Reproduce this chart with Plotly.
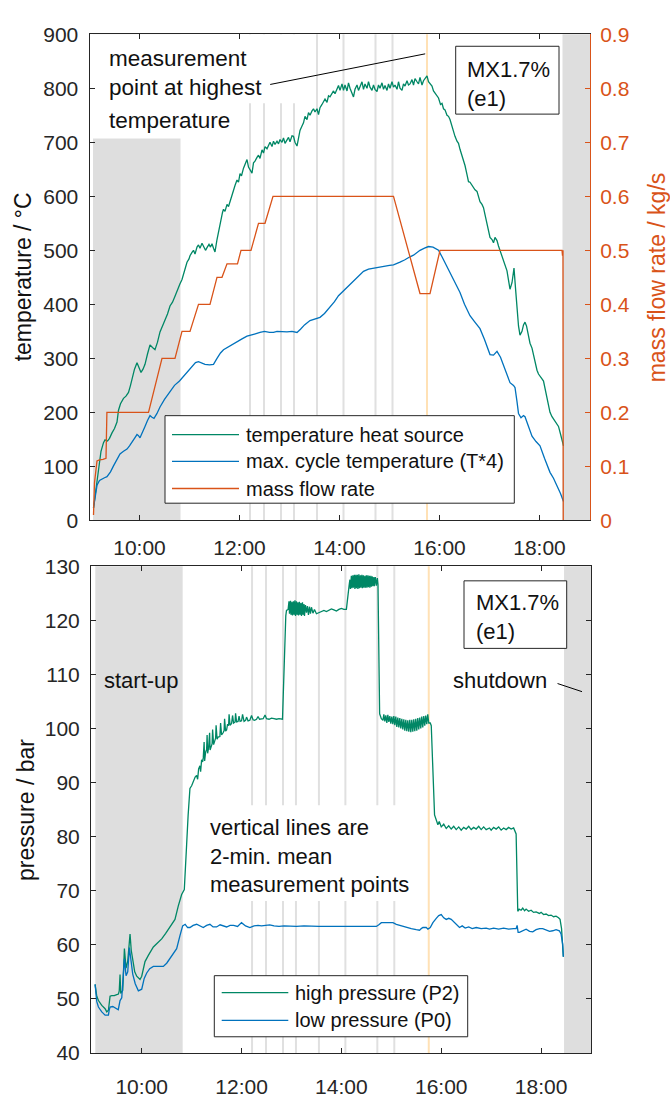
import plotly.graph_objects as go

W, H = 670, 1098
FONT = "Liberation Sans, Arial, Helvetica, sans-serif"
TXT = "#111111"
AX = "#262626"
GREEN = "#008765"
BLUE = "#0072BD"
ORANGE = "#D95319"
GRAY_PATCH = "#DEDEDE"
MEAS_GRAY = "#E0E0E0"
MEAS_ORANGE = "#FFE1B5"

# ---------------- data ----------------
tick_hours = [10, 12, 14, 16, 18]
tick_text = ["10:00", "12:00", "14:00", "16:00", "18:00"]
temp_ticks = [0, 100, 200, 300, 400, 500, 600, 700, 800, 900]
flow_ticks = [0, 0.1, 0.2, 0.3, 0.4, 0.5, 0.6, 0.7, 0.8, 0.9]
flow_tick_text = ["0", "0.1", "0.2", "0.3", "0.4", "0.5", "0.6", "0.7", "0.8", "0.9"]
pres_ticks = [40, 50, 60, 70, 80, 90, 100, 110, 120, 130]

series_top = ["temperature heat source", "max. cycle temperature (T*4)", "mass flow rate"]
series_bottom = ["high pressure (P2)", "low pressure (P0)"]

# temperature heat source (time in h, degC)
heat_source = [
    (9.08, 23), (9.13, 60), (9.18, 102), (9.23, 128), (9.28, 144), (9.31, 149), (9.36, 147), (9.40, 152),
    (9.45, 162), (9.50, 170), (9.55, 182), (9.58, 204), (9.62, 216), (9.65, 222), (9.68, 226), (9.73, 230),
    (9.78, 237), (9.82, 250), (9.85, 262), (9.90, 280), (9.95, 292), (9.99, 284), (10.03, 274), (10.07, 280),
    (10.11, 289), (10.16, 308), (10.21, 325), (10.26, 320), (10.31, 316), (10.36, 330), (10.41, 349),
    (10.46, 360), (10.51, 370), (10.56, 382), (10.61, 397), (10.66, 404), (10.71, 415), (10.76, 428),
    (10.81, 438), (10.85, 446), (10.88, 455), (10.92, 468), (10.95, 478), (10.99, 484), (11.01, 490),
    (11.05, 496), (11.08, 500), (11.11, 493), (11.15, 506), (11.18, 510), (11.21, 504), (11.25, 513),
    (11.28, 507), (11.32, 500), (11.35, 505), (11.39, 511), (11.42, 506), (11.45, 512), (11.48, 504),
    (11.51, 497), (11.55, 520), (11.59, 540), (11.63, 556), (11.66, 570), (11.68, 576), (11.71, 572),
    (11.75, 585), (11.78, 581), (11.81, 590), (11.85, 603), (11.88, 612), (11.91, 620), (11.95, 630),
    (11.98, 626), (12.01, 642), (12.04, 638), (12.08, 652), (12.11, 660), (12.15, 668), (12.18, 654),
    (12.21, 650), (12.25, 643), (12.28, 662), (12.31, 665), (12.35, 672), (12.38, 676), (12.41, 670),
    (12.45, 686), (12.48, 680), (12.51, 692), (12.55, 688), (12.58, 696), (12.61, 700), (12.65, 692),
    (12.68, 702), (12.71, 696), (12.75, 702), (12.78, 697), (12.81, 705), (12.85, 700), (12.88, 708),
    (12.91, 698), (12.95, 703), (12.98, 709), (13.01, 701), (13.05, 712), (13.08, 711), (13.11, 700),
    (13.15, 693), (13.18, 712), (13.21, 722), (13.25, 730), (13.28, 736), (13.31, 748), (13.35, 742),
    (13.38, 755), (13.41, 750), (13.45, 758), (13.48, 762), (13.51, 756), (13.55, 762), (13.58, 751),
    (13.61, 764), (13.65, 770), (13.68, 776), (13.71, 780), (13.75, 774), (13.78, 786), (13.81, 784),
    (13.85, 792), (13.88, 795), (13.91, 790), (13.95, 800), (13.98, 805), (14.01, 796), (14.05, 808),
    (14.08, 796), (14.11, 806), (14.15, 795), (14.18, 810), (14.21, 800), (14.25, 792), (14.28, 784),
    (14.31, 798), (14.35, 806), (14.38, 796), (14.41, 804), (14.45, 812), (14.48, 798), (14.51, 808),
    (14.55, 800), (14.58, 812), (14.61, 802), (14.65, 796), (14.68, 806), (14.71, 798), (14.75, 794),
    (14.78, 806), (14.81, 800), (14.85, 810), (14.88, 798), (14.91, 805), (14.95, 796), (14.98, 808),
    (15.01, 800), (15.05, 812), (15.08, 802), (15.11, 806), (15.15, 798), (15.18, 812), (15.21, 800),
    (15.25, 796), (15.28, 808), (15.31, 804), (15.35, 814), (15.38, 806), (15.41, 808), (15.45, 816),
    (15.48, 806), (15.51, 818), (15.55, 812), (15.58, 808), (15.61, 820), (15.65, 806), (15.68, 814),
    (15.71, 818), (15.75, 823), (15.78, 812), (15.82, 808), (15.85, 804), (15.88, 795), (15.92, 790),
    (15.95, 784), (15.98, 782), (16.02, 770), (16.05, 772), (16.08, 762), (16.11, 760), (16.15, 750),
    (16.18, 748), (16.21, 742), (16.25, 728), (16.28, 722), (16.31, 711), (16.35, 702), (16.38, 698),
    (16.41, 687), (16.45, 675), (16.48, 665), (16.51, 657), (16.55, 640), (16.58, 627), (16.61, 626),
    (16.65, 620), (16.68, 616), (16.71, 612), (16.75, 609), (16.78, 598), (16.81, 590), (16.85, 585),
    (16.88, 579), (16.91, 566), (16.95, 548), (16.98, 535), (17.01, 524), (17.05, 520), (17.08, 514),
    (17.11, 524), (17.15, 518), (17.18, 508), (17.21, 500), (17.25, 490), (17.28, 480), (17.31, 475),
    (17.35, 462), (17.38, 445), (17.41, 428), (17.45, 440), (17.49, 467), (17.52, 430), (17.55, 395),
    (17.58, 360), (17.61, 343), (17.65, 350), (17.68, 362), (17.71, 367), (17.74, 360), (17.78, 340),
    (17.81, 328), (17.85, 319), (17.88, 305), (17.91, 292), (17.95, 278), (17.98, 271), (18.01, 266),
    (18.05, 262), (18.08, 258), (18.11, 245), (18.15, 228), (18.18, 212), (18.21, 200), (18.25, 192),
    (18.28, 188), (18.31, 183), (18.35, 178), (18.38, 174), (18.42, 160), (18.45, 148), (18.48, 138),
]
hs_time = [p[0] for p in heat_source]
hs_temp = [p[1] for p in heat_source]

# max. cycle temperature (T*4)
cycle_temp = [
    (9.08, 23), (9.11, 40), (9.15, 65), (9.20, 74), (9.25, 77), (9.30, 79), (9.35, 81), (9.42, 90),
    (9.48, 101), (9.55, 112), (9.61, 123), (9.68, 128), (9.75, 132), (9.80, 138), (9.85, 144), (9.90, 152),
    (9.95, 159), (9.98, 157), (10.01, 153), (10.06, 162), (10.11, 174), (10.16, 185), (10.21, 194),
    (10.25, 191), (10.29, 189), (10.35, 198), (10.41, 210), (10.50, 224), (10.60, 238), (10.70, 250),
    (10.80, 258), (10.90, 268), (10.98, 277), (11.05, 284), (11.12, 292), (11.18, 294), (11.24, 291),
    (11.31, 289), (11.40, 288), (11.48, 289), (11.55, 300), (11.62, 310), (11.68, 316), (11.75, 320),
    (11.85, 326), (11.95, 331), (12.05, 336), (12.15, 341), (12.21, 343), (12.30, 345), (12.41, 348),
    (12.50, 350), (12.60, 348), (12.68, 348), (12.75, 350), (12.85, 349), (12.95, 349), (13.05, 350),
    (13.15, 348), (13.22, 354), (13.30, 362), (13.41, 370), (13.50, 373), (13.61, 376), (13.70, 383),
    (13.81, 394), (13.90, 405), (13.98, 416), (14.10, 427), (14.21, 437), (14.30, 446), (14.40, 455),
    (14.48, 461), (14.58, 465), (14.68, 467), (14.80, 469), (14.90, 471), (15.00, 472), (15.08, 473),
    (15.15, 475), (15.21, 478), (15.30, 482), (15.35, 485), (15.41, 488), (15.48, 491), (15.55, 496),
    (15.61, 500), (15.70, 504), (15.78, 507), (15.87, 506), (15.93, 503), (15.98, 500), (16.05, 488),
    (16.12, 475), (16.21, 458), (16.30, 442), (16.41, 422), (16.50, 400), (16.61, 379), (16.70, 368),
    (16.81, 355), (16.90, 335), (17.01, 307), (17.08, 306), (17.15, 313), (17.22, 302), (17.31, 280),
    (17.41, 255), (17.48, 250), (17.51, 246), (17.55, 220), (17.58, 198), (17.63, 190), (17.68, 194),
    (17.71, 192), (17.78, 172), (17.85, 156), (17.93, 146), (18.01, 138), (18.10, 115), (18.21, 89),
    (18.28, 78), (18.35, 65), (18.42, 50), (18.48, 35),
]
ct_time = [p[0] for p in cycle_temp]
ct_temp = [p[1] for p in cycle_temp]

# mass flow rate (kg/s)
mass_flow = [
    (9.08, 0.01), (9.10, 0.07), (9.15, 0.11), (9.20, 0.112), (9.27, 0.113), (9.33, 0.115), (9.348, 0.2),
    (10.18, 0.2), (10.45, 0.3), (10.71, 0.3), (10.85, 0.35), (11.01, 0.35), (11.18, 0.4), (11.41, 0.4),
    (11.55, 0.45), (11.65, 0.45), (11.75, 0.475), (11.96, 0.475), (12.03, 0.5), (12.23, 0.5),
    (12.38, 0.55), (12.51, 0.55), (12.67, 0.6), (15.08, 0.6), (15.61, 0.42), (15.81, 0.42),
    (16.01, 0.5), (18.45, 0.5), (18.46, 0.49), (18.47, 0.5), (18.475, 0.0),
]
mf_time = [p[0] for p in mass_flow]
mf_val = [p[1] for p in mass_flow]

# high pressure (P2), bar
high_p = [
    (9.066, 52.7), (9.10, 50.5), (9.133, 49.7), (9.20, 48.8), (9.266, 48.2), (9.30, 47.6), (9.333, 47.9),
    (9.35, 49.5), (9.366, 50.5), (9.40, 50.6), (9.45, 50.6), (9.50, 50.8), (9.533, 50.9), (9.55, 51.5),
    (9.566, 54.5), (9.58, 51.0), (9.62, 51.6), (9.653, 59.3), (9.67, 56.0), (9.686, 55.7), (9.72, 57.0),
    (9.766, 62.0), (9.79, 59.0), (9.82, 56.9), (9.86, 55.0), (9.90, 54.2), (9.966, 53.6), (10.00, 54.2),
    (10.066, 56.9), (10.13, 58.0), (10.233, 59.6), (10.30, 60.2), (10.40, 61.1), (10.48, 62.1),
    (10.566, 63.2), (10.666, 64.7), (10.733, 67.2), (10.80, 69.3), (10.853, 70.2), (10.88, 74.0),
    (10.90, 78.6), (10.93, 84.0), (10.966, 88.9), (11.00, 89.4), (11.04, 90.5), (11.07, 91.0),
    (11.10, 91.3), (11.12, 90.6), (11.14, 92.5), (11.166, 93.1), (11.18, 92.0), (11.20, 94.2),
    (11.22, 93.8), (11.233, 94.6), (11.25, 97.5), (11.26, 94.0), (11.28, 95.6), (11.30, 96.1),
    (11.31, 98.8), (11.32, 95.4), (11.34, 96.4), (11.36, 99.2), (11.37, 96.0), (11.39, 96.9),
    (11.41, 97.2), (11.42, 99.8), (11.44, 97.0), (11.46, 97.6), (11.48, 98.2), (11.49, 100.6),
    (11.51, 98.0), (11.53, 98.4), (11.566, 98.5), (11.58, 101.0), (11.60, 98.8), (11.63, 99.2),
    (11.65, 99.6), (11.66, 101.8), (11.68, 99.5), (11.70, 99.7), (11.72, 100.8), (11.74, 100.5),
    (11.75, 102.6), (11.77, 100.6), (11.80, 100.9), (11.82, 102.4), (11.84, 101.0), (11.87, 101.2),
    (11.88, 102.8), (11.90, 101.2), (11.93, 101.3), (11.95, 102.3), (11.97, 101.3), (12.00, 101.4),
    (12.02, 102.6), (12.05, 101.3), (12.08, 101.5), (12.10, 102.1), (12.13, 101.4), (12.166, 101.5),
    (12.20, 102.4), (12.23, 101.6), (12.26, 101.5), (12.30, 101.7), (12.33, 102.2), (12.36, 101.7),
    (12.40, 101.8), (12.433, 101.8), (12.47, 102.5), (12.50, 101.8), (12.55, 101.7), (12.60, 101.9),
    (12.65, 101.8), (12.70, 101.7), (12.75, 101.8), (12.82, 101.7), (12.886, 120.8), (12.90, 121.8),
    (12.933, 122.0), (12.95, 123.5), (12.96, 121.2), (12.98, 123.6), (12.99, 121.0), (13.01, 123.4),
    (13.02, 120.9), (13.04, 123.5), (13.05, 121.0), (13.07, 123.7), (13.08, 120.8), (13.10, 123.5),
    (13.11, 121.0), (13.13, 123.3), (13.14, 120.9), (13.16, 123.4), (13.17, 121.0), (13.19, 123.2),
    (13.20, 120.8), (13.22, 123.3), (13.23, 121.0), (13.25, 123.0), (13.26, 120.8), (13.28, 122.8),
    (13.30, 121.4), (13.32, 122.6), (13.34, 121.0), (13.36, 122.5), (13.38, 121.2), (13.40, 122.4),
    (13.43, 121.3), (13.46, 122.0), (13.50, 121.2), (13.55, 121.4), (13.60, 121.5), (13.65, 121.8),
    (13.70, 121.6), (13.75, 121.8), (13.80, 122.1), (13.85, 121.9), (13.90, 121.7), (13.95, 122.0),
    (14.00, 122.2), (14.05, 122.0), (14.10, 122.0), (14.153, 126.3), (14.17, 127.5), (14.18, 125.8),
    (14.20, 128.2), (14.21, 125.9), (14.23, 128.3), (14.24, 126.0), (14.26, 128.4), (14.27, 125.8),
    (14.29, 128.4), (14.30, 125.9), (14.32, 128.4), (14.33, 125.8), (14.35, 128.5), (14.36, 125.9),
    (14.38, 128.3), (14.39, 126.0), (14.41, 128.4), (14.42, 125.9), (14.44, 128.3), (14.45, 126.0),
    (14.47, 128.2), (14.48, 126.0), (14.50, 128.3), (14.51, 126.0), (14.53, 128.3), (14.54, 126.1),
    (14.56, 128.2), (14.57, 126.0), (14.59, 128.2), (14.60, 126.2), (14.62, 128.1), (14.63, 126.3),
    (14.65, 128.0), (14.66, 126.3), (14.68, 128.0), (14.70, 126.4), (14.72, 127.8), (14.733, 126.6),
    (14.766, 102.7), (14.80, 101.8), (14.833, 101.5), (14.85, 102.6), (14.87, 101.3), (14.89, 102.4),
    (14.91, 101.0), (14.93, 102.5), (14.95, 101.2), (14.97, 102.3), (14.99, 100.9), (15.01, 102.2),
    (15.03, 100.8), (15.05, 102.3), (15.07, 100.6), (15.09, 102.2), (15.11, 100.3), (15.13, 102.0),
    (15.15, 100.2), (15.17, 101.9), (15.19, 100.0), (15.21, 101.8), (15.23, 99.8), (15.25, 101.7),
    (15.27, 99.6), (15.29, 101.6), (15.31, 99.5), (15.33, 101.5), (15.35, 99.4), (15.37, 101.6),
    (15.39, 99.3), (15.41, 101.6), (15.43, 99.4), (15.45, 101.7), (15.47, 99.5), (15.49, 101.8),
    (15.51, 99.6), (15.53, 101.9), (15.55, 99.8), (15.57, 102.0), (15.59, 100.0), (15.61, 102.2),
    (15.63, 100.2), (15.65, 102.3), (15.67, 100.5), (15.69, 102.4), (15.71, 100.8), (15.73, 102.6),
    (15.75, 101.0), (15.78, 101.0), (15.80, 100.5), (15.866, 84.0), (15.90, 83.0), (15.933, 82.2),
    (15.96, 82.8), (16.00, 81.8), (16.05, 82.3), (16.10, 81.5), (16.15, 82.0), (16.20, 81.4),
    (16.25, 81.9), (16.30, 81.3), (16.35, 81.8), (16.40, 81.2), (16.45, 81.7), (16.50, 81.4),
    (16.55, 81.9), (16.60, 81.3), (16.65, 81.7), (16.70, 81.4), (16.75, 81.9), (16.80, 81.3),
    (16.85, 81.8), (16.90, 81.3), (16.966, 81.6), (17.00, 81.2), (17.05, 81.7), (17.10, 81.4),
    (17.15, 81.8), (17.20, 81.2), (17.25, 81.6), (17.30, 81.3), (17.35, 81.7), (17.40, 81.4),
    (17.45, 81.6), (17.48, 81.0), (17.50, 80.5), (17.533, 66.2), (17.56, 66.6), (17.60, 66.4),
    (17.633, 66.8), (17.67, 66.3), (17.70, 66.6), (17.75, 66.2), (17.80, 66.4), (17.85, 66.0),
    (17.90, 66.1), (17.966, 65.8), (18.00, 66.0), (18.05, 65.6), (18.10, 65.7), (18.15, 65.4),
    (18.20, 65.5), (18.25, 65.2), (18.30, 65.3), (18.35, 65.0), (18.38, 64.7), (18.41, 63.0),
    (18.433, 60.5), (18.446, 57.8),
]
hp_time = [p[0] for p in high_p]
hp_val = [p[1] for p in high_p]

# low pressure (P0), bar
low_p = [
    (9.066, 52.7), (9.10, 49.5), (9.133, 48.5), (9.20, 47.6), (9.266, 47.0), (9.333, 47.0), (9.35, 48.0),
    (9.366, 48.5), (9.42, 48.6), (9.50, 48.2), (9.53, 48.0), (9.566, 49.7), (9.60, 50.2), (9.653, 57.4),
    (9.67, 55.0), (9.686, 54.3), (9.72, 55.0), (9.753, 59.5), (9.78, 57.5), (9.82, 54.6), (9.87, 52.8),
    (9.933, 51.5), (10.00, 51.8), (10.05, 53.8), (10.10, 54.8), (10.16, 55.6), (10.233, 56.0),
    (10.33, 56.0), (10.433, 56.0), (10.50, 56.6), (10.566, 57.5), (10.63, 58.3), (10.70, 59.3),
    (10.766, 61.7), (10.82, 63.5), (10.87, 63.8), (10.92, 63.2), (10.966, 63.2), (11.03, 63.6),
    (11.10, 63.8), (11.17, 63.4), (11.233, 63.2), (11.30, 63.6), (11.366, 63.8), (11.43, 63.3),
    (11.50, 63.3), (11.57, 63.7), (11.63, 63.5), (11.70, 63.3), (11.77, 63.6), (11.84, 63.6),
    (11.92, 63.4), (11.999, 64.1), (12.08, 63.5), (12.166, 63.2), (12.25, 63.5), (12.33, 63.6),
    (12.40, 63.5), (12.48, 63.6), (12.566, 63.7), (12.65, 63.5), (12.75, 63.4), (12.85, 63.5),
    (12.966, 63.4), (13.10, 63.4), (13.25, 63.5), (13.40, 63.4), (13.55, 63.4), (13.70, 63.4),
    (13.85, 63.4), (14.00, 63.4), (14.15, 63.5), (14.30, 63.4), (14.45, 63.4), (14.60, 63.4),
    (14.70, 63.4), (14.75, 63.7), (14.80, 64.1), (14.90, 64.1), (15.033, 64.1), (15.10, 63.8),
    (15.20, 63.5), (15.30, 63.2), (15.40, 63.0), (15.50, 62.8), (15.566, 62.7), (15.60, 63.0),
    (15.633, 63.2), (15.70, 63.2), (15.733, 62.9), (15.78, 63.2), (15.833, 64.1), (15.90, 64.9),
    (15.95, 65.4), (16.00, 65.6), (16.05, 65.0), (16.10, 64.7), (16.15, 64.9), (16.20, 64.7),
    (16.25, 64.2), (16.30, 63.8), (16.366, 63.2), (16.42, 63.5), (16.48, 63.1), (16.55, 63.3),
    (16.62, 63.0), (16.70, 63.2), (16.80, 63.0), (16.90, 63.1), (16.966, 62.9), (17.05, 63.1),
    (17.15, 62.9), (17.25, 63.1), (17.35, 62.9), (17.45, 63.0), (17.50, 63.0), (17.52, 63.6),
    (17.54, 62.3), (17.566, 62.3), (17.62, 62.6), (17.70, 62.9), (17.77, 62.5), (17.833, 62.4),
    (17.90, 62.8), (17.97, 63.0), (18.033, 63.0), (18.10, 62.8), (18.17, 62.5), (18.233, 62.6),
    (18.30, 62.8), (18.366, 62.6), (18.40, 62.0), (18.433, 60.1), (18.446, 57.8),
]
lp_time = [p[0] for p in low_p]
lp_val = [p[1] for p in low_p]

meas_times = [12.21, 12.49, 12.83, 13.09, 13.55, 14.08, 14.72, 15.06]
meas_highest = 15.75
startup_span = (9.07, 10.82)
shutdown_start = 18.46

# ---------------- layout helpers ----------------
def px(x):
    return x / W


def py(y):
    return 1 - y / H


top_x_dom = [px(89.5), px(590)]
top_y_dom = [py(519.3), py(22.7)]
bot_x_dom = [px(91), px(591)]
bot_y_dom = [py(1063.3), py(566)]
top_range = [9.0, 19.01]
bot_range = [8.984, 19.0]

fig = go.Figure()
LW = 1.3
fig.add_trace(go.Scatter(x=hs_time, y=hs_temp, mode="lines", name=series_top[0],
                         line=dict(color=GREEN, width=LW), xaxis="x", yaxis="y", showlegend=False))
fig.add_trace(go.Scatter(x=ct_time, y=ct_temp, mode="lines", name=series_top[1],
                         line=dict(color=BLUE, width=LW), xaxis="x", yaxis="y", showlegend=False))
fig.add_trace(go.Scatter(x=mf_time, y=mf_val, mode="lines", name=series_top[2],
                         line=dict(color=ORANGE, width=LW), xaxis="x", yaxis="y2", showlegend=False))
fig.add_trace(go.Scatter(x=hp_time, y=hp_val, mode="lines", name=series_bottom[0],
                         line=dict(color=GREEN, width=LW), xaxis="x2", yaxis="y3", showlegend=False))
fig.add_trace(go.Scatter(x=lp_time, y=lp_val, mode="lines", name=series_bottom[1],
                         line=dict(color=BLUE, width=LW), xaxis="x2", yaxis="y3", showlegend=False))

shapes = []
for xr, yr, rng in (("x", "y", top_range), ("x2", "y3", bot_range)):
    shapes.append(dict(type="rect", xref=xr, yref=yr + " domain", x0=startup_span[0], x1=startup_span[1],
                       y0=0, y1=1, fillcolor=GRAY_PATCH, line=dict(width=0), layer="below"))
    shapes.append(dict(type="rect", xref=xr, yref=yr + " domain", x0=shutdown_start, x1=rng[1],
                       y0=0, y1=1, fillcolor=GRAY_PATCH, line=dict(width=0), layer="below"))
    for t in meas_times:
        shapes.append(dict(type="line", xref=xr, yref=yr + " domain", x0=t, x1=t, y0=0, y1=1,
                           line=dict(color=MEAS_GRAY, width=2), layer="below"))
    shapes.append(dict(type="line", xref=xr, yref=yr + " domain", x0=meas_highest, x1=meas_highest,
                       y0=0, y1=1, line=dict(color=MEAS_ORANGE, width=2), layer="below"))

# white backgrounds behind the text labels
shapes.append(dict(type="rect", xref="x", yref="y", x0=startup_span[0] - 0.01, x1=13.3, y0=772, y1=900,
                   fillcolor="white", line=dict(width=0), layer="below"))
shapes.append(dict(type="rect", xref="x", yref="y", x0=startup_span[0] - 0.01, x1=startup_span[1] + 0.01,
                   y0=707, y1=900, fillcolor="white", line=dict(width=0), layer="below"))
shapes.append(dict(type="rect", xref="x2", yref="y3", x0=11.29, x1=15.51, y0=68.1, y1=85.8,
                   fillcolor="white", line=dict(width=0), layer="below"))

# leader lines
shapes.append(dict(type="line", xref="x", yref="y", x0=12.614, y0=807, x1=15.714, y1=863.7,
                   line=dict(color="#000000", width=1)))
shapes.append(dict(type="line", xref="x2", yref="y3", x0=18.33, y0=108.3, x1=18.82, y1=106.8,
                   line=dict(color="#000000", width=1)))

# MX boxes
for (x0, x1, y0, y1) in ((455.7, 559, 35, 104.3), (464, 566.7, 581, 650)):
    shapes.append(dict(type="rect", xref="paper", yref="paper", x0=px(x0), x1=px(x1), y0=py(y1), y1=py(y0),
                       fillcolor="white", line=dict(color=AX, width=1)))

annotations = []


def add_text(text, x, y, size=22, color=TXT, xanchor="left", angle=0):
    annotations.append(dict(text=text, x=px(x), y=py(y), xref="paper", yref="paper", showarrow=False,
                            xanchor=xanchor, yanchor="middle", align="left", borderpad=0,
                            font=dict(family=FONT, size=size, color=color), textangle=angle))


# custom legends
LEG_FONT = 20
legend_specs = [
    (series_top, [GREEN, BLUE, ORANGE], (165, 514.3, 412.3, 501.7), (172, 239), [431.7, 459, 486.7], 245),
    (series_bottom, [GREEN, BLUE], (214.3, 467.7, 984.3, 1046.7), (221.7, 288.3), [1001.7, 1030], 294),
]
for names, cols, box, lx, rows, tx in legend_specs:
    shapes.append(dict(type="rect", xref="paper", yref="paper", x0=px(box[0]), x1=px(box[1]),
                       y0=py(box[3]), y1=py(box[2]), fillcolor="white", line=dict(color=AX, width=1)))
    for nm, c, ry in zip(names, cols, rows):
        shapes.append(dict(type="line", xref="paper", yref="paper", x0=px(lx[0]), x1=px(lx[1]),
                           y0=py(ry), y1=py(ry), line=dict(color=c, width=LW)))
        add_text(nm, tx, ry, size=LEG_FONT)

add_text("measurement<br>point at highest", 108, 62.5, size=22.5)
add_text("temperature", 108, 111, size=22.5)
add_text("MX1.7%<br>(e1)", 466, 73.3)
add_text("MX1.7%<br>(e1)", 474.5, 617.5)
add_text("start-up", 102.5, 683.3)
add_text("shutdown", 452, 683)
add_text("vertical lines are<br>2-min. mean<br>measurement points", 209, 861.7)

# axis titles
add_text("temperature / °C", 23, 271, size=23, xanchor="center", angle=-90)
add_text("mass flow rate / kg/s", 657, 271, size=23, color=ORANGE, xanchor="center", angle=-90)
add_text("pressure / bar", 26, 815, size=23, xanchor="center", angle=-90)

tickfont = dict(family=FONT, size=21, color=AX)
common_x = dict(tickvals=tick_hours, ticktext=tick_text, ticks="inside", ticklen=5, tickcolor=AX,
                showline=True, linecolor=AX, linewidth=1, mirror="ticks", showgrid=False, zeroline=False,
                tickfont=tickfont)
common_y = dict(ticks="inside", ticklen=5, tickcolor=AX, showline=True, linecolor=AX, linewidth=1,
                showgrid=False, zeroline=False, tickfont=tickfont)

fig.update_layout(
    width=W, height=H, autosize=False,
    margin=dict(l=0, r=0, t=0, b=0),
    paper_bgcolor="white", plot_bgcolor="white",
    font=dict(family=FONT, color=TXT),
    showlegend=False,
    xaxis=dict(domain=top_x_dom, range=top_range, anchor="y", ticklabelstandoff=8, **common_x),
    yaxis=dict(domain=top_y_dom, range=[0, 900], tickvals=temp_ticks, anchor="x", mirror=False,
               ticklabelstandoff=6, **common_y),
    yaxis2=dict(overlaying="y", side="right", anchor="x", range=[0, 0.9], tickvals=flow_ticks,
                ticktext=flow_tick_text, ticks="inside", ticklen=5, tickcolor=ORANGE, showline=True,
                linecolor=ORANGE, linewidth=1, showgrid=False, zeroline=False, ticklabelstandoff=5,
                tickfont=dict(family=FONT, size=21, color=ORANGE)),
    xaxis2=dict(domain=bot_x_dom, range=bot_range, anchor="y3", ticklabelstandoff=15, **common_x),
    yaxis3=dict(domain=bot_y_dom, range=[40, 130], tickvals=pres_ticks, anchor="x2", mirror="ticks",
                ticklabelstandoff=6, **common_y),
    shapes=shapes,
    annotations=annotations,
)

fig.write_html("out.html")
